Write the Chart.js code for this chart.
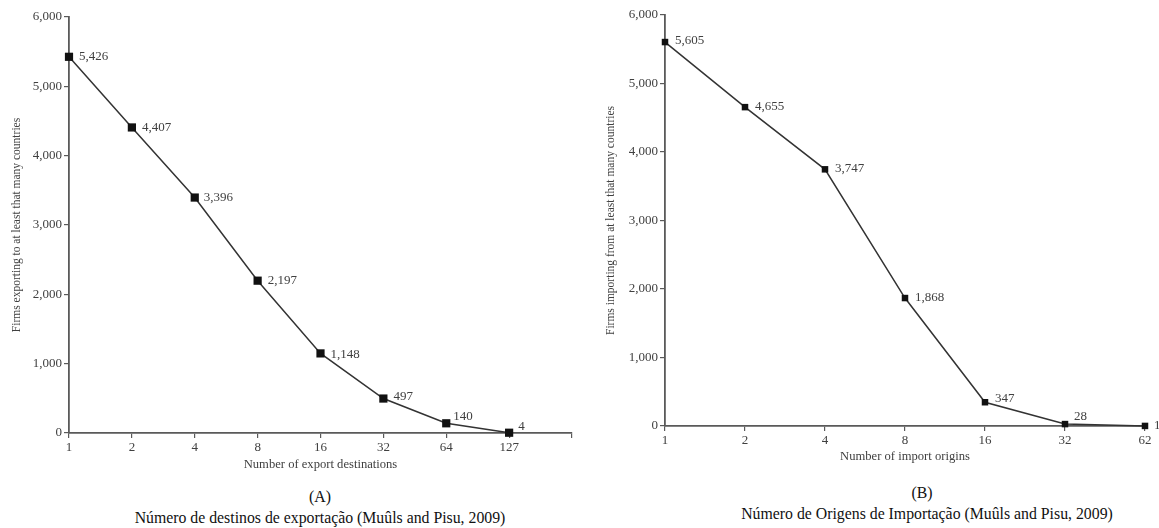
<!DOCTYPE html>
<html>
<head>
<meta charset="utf-8">
<script src="https://cdn.jsdelivr.net/npm/chart.js@4"></script>
<style>
  html, body { margin: 0; padding: 0; background: #fff; }
  body { width: 1159px; height: 528px; position: relative; overflow: hidden;
         font-family: "Liberation Serif", "DejaVu Serif", serif; color: #222; }
  .panel { position: absolute; top: 0; height: 480px; }
  .caption { position: absolute; text-align: center; font-size: 15.8px; line-height: 18px; color: #111; white-space: nowrap; }
</style>
</head>
<body>
<div class="panel" style="left:0; width:590px;"><canvas id="chartA"></canvas></div>
<div class="panel" style="left:590px; width:569px;"><canvas id="chartB"></canvas></div>

<div class="caption" style="left:220px; width:200px; top:488px;">(A)</div>
<div class="caption" style="left:70px; width:500px; top:509px;">Número de destinos de exportação (Muûls and Pisu, 2009)</div>
<div class="caption" style="left:822px; width:200px; top:484px;">(B)</div>
<div class="caption" style="left:677px; width:500px; top:505px;">Número de Origens de Importação (Muûls and Pisu, 2009)</div>

<script>
// Panel A: firms exporting to at least N destinations
const exportDestinations = ['1', '2', '4', '8', '16', '32', '64', '127', ''];
const exportFirms = [5426, 4407, 3396, 2197, 1148, 497, 140, 4];

// Panel B: firms importing from at least N origins
const importOrigins = ['1', '2', '4', '8', '16', '32', '62'];
const importFirms = [5605, 4655, 3747, 1868, 347, 28, 1];

// Shared y-axis ticks
const yTicks = { min: 0, max: 6000, step: 1000 };

const SERIF = '"Liberation Serif", "DejaVu Serif", serif';
const TEXT = '#404040';
const AXIS = '#5a5a5a';

// Writes each point's value beside its marker
const pointValueLabels = {
  id: 'pointValueLabels',
  afterDatasetsDraw(chart, args, opts) {
    const ctx = chart.ctx;
    const meta = chart.getDatasetMeta(0);
    const values = chart.data.datasets[0].data;
    ctx.save();
    ctx.font = '13px ' + SERIF;
    ctx.fillStyle = TEXT;
    ctx.textAlign = 'left';
    ctx.textBaseline = 'middle';
    meta.data.forEach((pt, i) => {
      const off = (opts.offsets && opts.offsets[i]) || [10, 0];
      ctx.fillText(values[i].toLocaleString('en-US'), pt.x + off[0], pt.y + off[1]);
    });
    ctx.restore();
  }
};

function makeChart(id, labels, values, cfg) {
  return new Chart(document.getElementById(id), {
    type: 'line',
    data: {
      labels: labels,
      datasets: [{
        data: values,
        borderColor: '#333',
        borderWidth: 1.5,
        pointStyle: 'rect',
        pointRadius: cfg.pointRadius,
        pointBackgroundColor: '#111',
        pointBorderColor: '#111',
        pointBorderWidth: 0,
        tension: 0,
        clip: false
      }]
    },
    options: {
      responsive: true,
      maintainAspectRatio: false,
      animation: false,
      events: [],
      layout: { padding: cfg.padding },
      plugins: {
        legend: { display: false },
        tooltip: { enabled: false },
        pointValueLabels: { offsets: cfg.offsets }
      },
      scales: {
        x: {
          type: 'category',
          offset: false,
          grid: { drawOnChartArea: false, drawTicks: true, tickLength: 5, color: AXIS, lineWidth: 1.2 },
          border: { display: true, color: AXIS, width: 1.8 },
          ticks: { color: TEXT, font: { family: SERIF, size: 13 }, padding: 2, maxRotation: 0, autoSkip: false },
          title: { display: true, text: cfg.xTitle, color: TEXT, font: { family: SERIF, size: 12.6 }, padding: { top: 0, bottom: cfg.xTitlePad } },
          afterFit(scale) { scale.height = 40; }
        },
        y: {
          min: yTicks.min,
          max: yTicks.max,
          grid: { drawOnChartArea: false, drawTicks: true, tickLength: 5, color: AXIS, lineWidth: 1.2 },
          border: { display: true, color: AXIS, width: 1.8 },
          ticks: { stepSize: yTicks.step, color: TEXT, font: { family: SERIF, size: 13 }, padding: 2 },
          title: { display: true, text: cfg.yTitle, color: TEXT, font: { family: SERIF, size: 11.5 }, padding: { top: cfg.yTitlePad, bottom: 0 } },
          afterFit(scale) { scale.width = cfg.yWidth; }
        }
      }
    },
    plugins: [pointValueLabels]
  });
}

makeChart('chartA', exportDestinations, exportFirms, {
  xTitle: 'Number of export destinations',
  yTitle: 'Firms exporting to at least that many countries',
  pointRadius: 5.8,
  yWidth: 69,
  yTitlePad: 10,
  xTitlePad: 1,
  padding: { top: 17, right: 18, bottom: 7, left: 0 },
  offsets: [[10, 0], [10, 0], [9, 0], [10, 0], [10, 1], [10, -2], [7, -7], [9, -6]]
});

makeChart('chartB', importOrigins, importFirms, {
  xTitle: 'Number of import origins',
  yTitle: 'Firms importing from at least that many countries',
  pointRadius: 4.6,
  yWidth: 75,
  yTitlePad: 14,
  xTitlePad: 2,
  padding: { top: 15, right: 14, bottom: 14, left: 0 },
  offsets: [[10, -1], [10, -1], [10, -1], [10, 0], [10, -4], [9, -8], [9, 0]]
});
</script>
</body>
</html>
